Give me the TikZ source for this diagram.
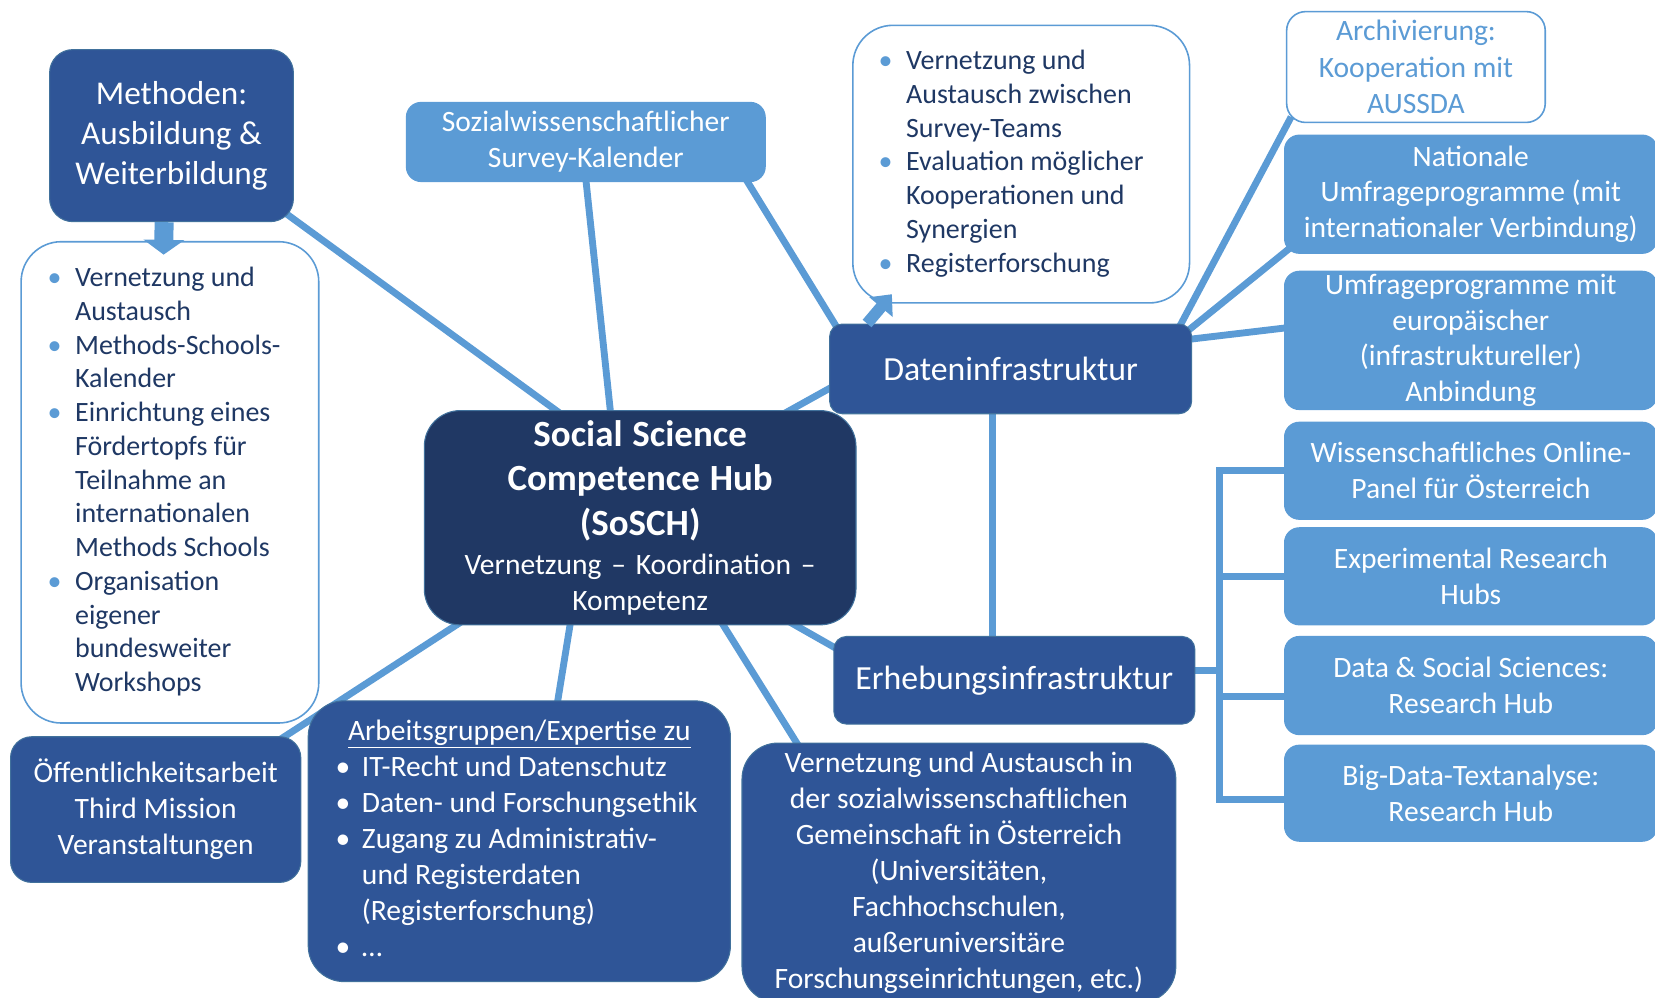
\documentclass[tikz,border=0pt]{standalone}
\usepackage{fontspec}
\setmainfont{Carlito}
\usetikzlibrary{arrows.meta,backgrounds}
\definecolor{dkblue}{HTML}{2F5597}
\definecolor{hubnavy}{HTML}{203864}
\definecolor{ltblue}{HTML}{5B9BD5}
\definecolor{navytext}{HTML}{1F3864}
\definecolor{edgeblue}{HTML}{41719C}
\newcommand{\bulL}{\makebox[21pt][l]{\kern-5pt\textcolor{ltblue}{\textbullet}}}
\newcommand{\indL}{\hspace*{21pt}}
\newcommand{\bulW}{\makebox[20pt][l]{\kern-5pt\textbullet}}
\newcommand{\indW}{\hspace*{20pt}}

\begin{document}
\begin{tikzpicture}[x=1pt, y=-1pt,
    darkbox/.style={draw=edgeblue, line width=1pt, fill=dkblue, text=white, rounded corners=12pt,
      align=center, inner sep=0pt, font=\fontsize{28}{34}\selectfont},
    hubbox/.style={darkbox, fill=hubnavy, rounded corners=34pt},
    lightbox/.style={draw=ltblue, line width=1pt, fill=ltblue, text=white, rounded corners=14pt,
      align=center, inner sep=0pt, font=\fontsize{28}{34}\selectfont},
    listbox/.style={draw=ltblue, line width=1.5pt, fill=white, text=navytext, rounded corners=38pt,
      inner sep=0pt, font=\fontsize{26.5}{32}\selectfont},
    conn/.style={draw=ltblue, line width=6.5pt},
    fatarr/.style={draw=ltblue, line width=#1}]
\useasboundingbox (0,0) rectangle (1568,945);

% left column
\node[darkbox, minimum width=231pt, minimum height=163pt, rounded corners=22pt,
  font=\fontsize{31.5}{38}\selectfont] (meth) at (162.5,128.5) {Methoden:\\Ausbildung \&\\Weiterbildung};
\node[listbox, minimum width=282pt, minimum height=456pt] (list) at (161,457) {%
  \begin{tabular}{@{}l@{\hspace{6pt}}}
  \bulL Vernetzung und\\ \indL Austausch\\ \bulL Methods-Schools-\\ \indL Kalender\\
  \bulL Einrichtung eines\\ \indL Fördertopfs für\\ \indL Teilnahme an\\ \indL internationalen\\
  \indL Methods Schools\\ \bulL Organisation\\ \indL eigener\\ \indL bundesweiter\\ \indL Workshops
  \end{tabular}};
\node[darkbox, minimum width=275pt, minimum height=138pt, rounded corners=20pt] (oef) at (147.5,767)
  {Öffentlichkeitsarbeit\\Third Mission\\Veranstaltungen};

% middle
\node[lightbox, minimum width=340pt, minimum height=75pt] (soz) at (555,134.5)
  {Sozialwissenschaftlicher\\Survey-Kalender};
\node[hubbox, minimum width=409pt, minimum height=203pt, text width=405pt] (hub) at (606.5,490.5)
  {{\bfseries\fontsize{35}{42}\selectfont Social Science\\Competence Hub\\(SoSCH)\par}\vspace{3pt}
   Vernetzung – Koordination –\\Kompetenz};
\node[darkbox, minimum width=400pt, minimum height=266pt, rounded corners=34pt] (arb) at (492,797) {%
  \begin{tabular}{@{}l@{}}
  \multicolumn{1}{@{}c@{}}{\underline{Arbeitsgruppen/Expertise zu}}\\
  \bulW IT-Recht und Datenschutz\\ \bulW Daten- und Forschungsethik\\
  \bulW Zugang zu Administrativ-\\ \indW und Registerdaten\\ \indW (Registerforschung)\\ \bulW …
  \end{tabular}};
\node[darkbox, minimum width=411pt, minimum height=246pt, rounded corners=34pt] (ver) at (908.5,827)
  {Vernetzung und Austausch in\\der sozialwissenschaftlichen\\Gemeinschaft in Österreich\\(Universitäten,\\Fachhochschulen,\\außeruniversitäre\\Forschungseinrichtungen, etc.)};

% data side
\node[listbox, minimum width=319pt, minimum height=263pt] (top) at (967.5,155.5) {%
  \begin{tabular}{@{}l@{\hspace{14pt}}}
  \bulL Vernetzung und\\ \indL Austausch zwischen\\ \indL Survey-Teams\\
  \bulL Evaluation möglicher\\ \indL Kooperationen und\\ \indL Synergien\\ \bulL Registerforschung
  \end{tabular}};
\node[darkbox, minimum width=343pt, minimum height=85pt, font=\fontsize{32}{38}\selectfont] (daten)
  at (957.5,349.5) {Dateninfrastruktur};
\node[darkbox, minimum width=342pt, minimum height=83pt, font=\fontsize{32}{38}\selectfont] (erh)
  at (961,644.5) {Erhebungsinfrastruktur};

% right column
\node[listbox, text=ltblue, align=center, rounded corners=18pt, minimum width=245pt, minimum height=105pt,
  font=\fontsize{28}{34.5}\selectfont] (arch) at (1341.5,63.5) {Archivierung:\\Kooperation mit\\AUSSDA};
\node[lightbox, minimum width=353pt, minimum height=112pt] (nat) at (1393.5,184)
  {Nationale\\Umfrageprogramme (mit\\internationaler Verbindung)};
\node[lightbox, minimum width=353pt, minimum height=131pt] (umf) at (1393.5,322.5)
  {Umfrageprogramme mit\\europäischer\\(infrastruktureller)\\Anbindung};
\node[lightbox, minimum width=353pt, minimum height=92pt] (wop) at (1393.5,446)
  {Wissenschaftliches Online-\\Panel für Österreich};
\node[lightbox, minimum width=353pt, minimum height=92pt] (exh) at (1393.5,546)
  {Experimental Research\\Hubs};
\node[lightbox, minimum width=353pt, minimum height=93pt] (dss) at (1393.5,649.5)
  {Data \& Social Sciences:\\Research Hub};
\node[lightbox, minimum width=353pt, minimum height=91pt] (bdt) at (1393.5,751.5)
  {Big-Data-Textanalyse:\\Research Hub};

\coordinate (brk) at (1155,635);

\begin{scope}[on background layer]
\draw[conn] ([shift={(-10pt,10pt)}]meth.south east) -- ([shift={(-76pt,-3pt)}]hub.north);
\draw[conn] ([yshift=3pt]soz.south) -- ([shift={(-28pt,-3pt)}]hub.north);
\draw[conn] ([shift={(-19pt,3pt)}]soz.south east) -- ([shift={(7pt,-3pt)}]daten.north west);
\draw[conn] ([shift={(-68pt,-3pt)}]hub.north east) -- ([shift={(3pt,-17pt)}]daten.west);
\draw[conn] ([shift={(-12pt,-3pt)}]daten.north east) -- ([shift={(5pt,6pt)}]arch.south west);
\draw[conn] ([shift={(-3pt,-6pt)}]daten.north east) -- ([shift={(5pt,5pt)}]nat.south west);
\draw[conn] ([shift={(-3pt,28pt)}]daten.east) -- ([shift={(3pt,12pt)}]umf.west);
\draw[conn] ([xshift=-17pt]daten.south) -- ([xshift=-17pt]daten.south |- erh.north);
\draw[conn] ([shift={(-63pt,3pt)}]hub.south east) -- ([shift={(3pt,30pt)}]erh.west);
\draw[conn] ([shift={(77pt,3pt)}]hub.south) -- ([shift={(-152pt,-3pt)}]ver.north);
\draw[conn] ([shift={(-66pt,3pt)}]hub.south) -- ([shift={(36pt,-3pt)}]arb.north);
\draw[conn] ([shift={(35pt,3pt)}]hub.south west) -- ([shift={(-20pt,-3pt)}]oef.north east);
% bracket to the survey hubs
\draw[conn] ([yshift=9.5pt]erh.east) -- (brk);
\draw[conn] (wop.west) -| ([yshift=-6pt]brk |- bdt.west) -- ([yshift=-6pt]bdt.west);
\draw[conn] (brk |- exh.west) -- (exh.west);
\draw[conn] ([yshift=-10pt]brk |- dss.west) -- ([yshift=-10pt]dss.west);
\end{scope}

\draw[fatarr=18pt, -{Triangle[length=14pt,width=38pt]}] ([xshift=-7pt]meth.south) -- ([shift={(-6pt,-13pt)}]list.north);
\draw[fatarr=11pt, -{Triangle[length=16pt,width=28pt]}] ([xshift=36pt]daten.north west) -- ([shift={(-122.5pt,9pt)}]top.south);
\end{tikzpicture}
\end{document}
